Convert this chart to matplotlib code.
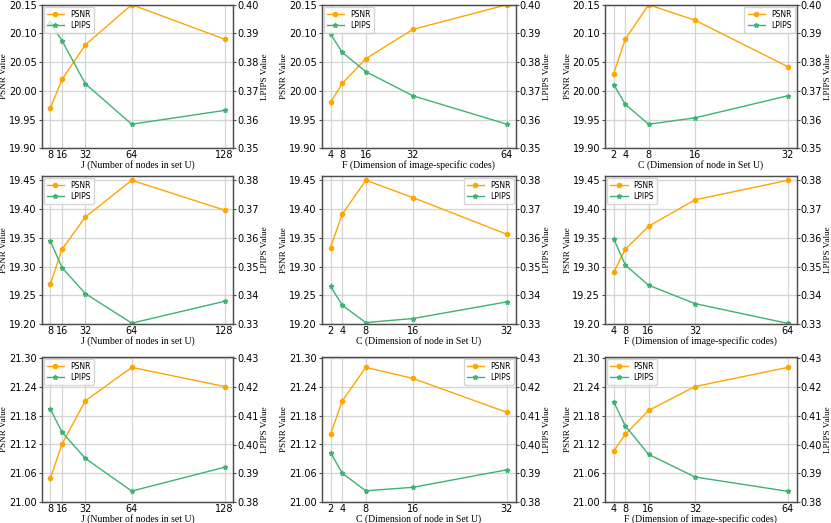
import matplotlib
matplotlib.use('Agg')
import matplotlib.pyplot as plt

# x values for each kind of experiment
J_vals = [8, 16, 32, 64, 128]
F_vals = [4, 8, 16, 32, 64]
C_vals = [2, 4, 8, 16, 32]

J_label = 'J (Number of nodes in set U)'
F_label = 'F (Dimension of image-specific codes)'
C_label = 'C (Dimension of node in Set U)'

# row 1
psnr_11 = [19.97, 20.02, 20.08, 20.15, 20.09]
lpips_11 = [0.3935, 0.3875, 0.3725, 0.3584, 0.3632]
psnr_12 = [19.98, 20.013, 20.056, 20.107, 20.15]
lpips_12 = [0.3898, 0.3834, 0.3767, 0.3683, 0.3584]
psnr_13 = [20.03, 20.09, 20.15, 20.123, 20.042]
lpips_13 = [0.3722, 0.3653, 0.3584, 0.3606, 0.3683]

# row 2
psnr_21 = [19.27, 19.33, 19.386, 19.45, 19.398]
lpips_21 = [0.3588, 0.3496, 0.3406, 0.3303, 0.3379]
psnr_22 = [19.333, 19.391, 19.45, 19.42, 19.356]
lpips_22 = [0.3432, 0.3365, 0.3305, 0.3319, 0.3377]
psnr_23 = [19.29, 19.33, 19.37, 19.416, 19.45]
lpips_23 = [0.3597, 0.3505, 0.3435, 0.3371, 0.3302]

# row 3
psnr_31 = [21.05, 21.121, 21.211, 21.281, 21.241]
lpips_31 = [0.4123, 0.4043, 0.3952, 0.3838, 0.3921]
psnr_32 = [21.141, 21.211, 21.281, 21.258, 21.187]
lpips_32 = [0.3972, 0.39, 0.3839, 0.3851, 0.3912]
psnr_33 = [21.106, 21.141, 21.191, 21.241, 21.281]
lpips_33 = [0.4149, 0.4065, 0.3966, 0.3887, 0.3837]

psnr_ticks_1 = [19.90, 19.95, 20.00, 20.05, 20.10, 20.15]
lpips_ticks_1 = [0.35, 0.36, 0.37, 0.38, 0.39, 0.40]
psnr_ticks_2 = [19.20, 19.25, 19.30, 19.35, 19.40, 19.45]
lpips_ticks_2 = [0.33, 0.34, 0.35, 0.36, 0.37, 0.38]
psnr_ticks_3 = [21.00, 21.06, 21.12, 21.18, 21.24, 21.30]
lpips_ticks_3 = [0.38, 0.39, 0.40, 0.41, 0.42, 0.43]

# axis limits (top slightly above last tick in rows 2 and 3)
psnr_lim = [(19.90, 20.15), (19.20, 19.458), (21.00, 21.3033)]
lpips_lim = [(0.35, 0.40), (0.33, 0.3816), (0.38, 0.4306)]

orange = '#FFA500'
green = '#3CB371'
serif = ['Liberation Serif', 'DejaVu Serif']

plt.rcParams['font.size'] = 7

fig = plt.figure(figsize=(8.31, 5.23), dpi=100)

col_left = [0.0502, 0.3871, 0.7280]
col_w = [0.2306, 0.2335, 0.2307]
row_bot = [0.7164, 0.3805, 0.0402]
row_h = [0.2746, 0.2836, 0.2778]


def panel(r, c, x, psnr, lpips, xlabel, pt, lt, loc):
    ax = fig.add_axes([col_left[c], row_bot[r], col_w[c], row_h[r]])
    ax2 = ax.twinx()
    l1, = ax.plot(x, psnr, color=orange, marker='o', markersize=3, linewidth=1, label='PSNR')
    l2, = ax2.plot(x, lpips, color=green, marker='*', markersize=3.5, linewidth=1, label='LPIPS')
    ax.set_xticks(x)
    ax.set_ylim(*psnr_lim[r])
    ax.set_yticks(pt)
    ax.set_yticklabels(['%.2f' % v for v in pt])
    ax2.set_ylim(*lpips_lim[r])
    ax2.set_yticks(lt)
    ax2.set_yticklabels(['%.2f' % v for v in lt])
    ax.grid(True, color='#d4d4d4', linewidth=0.9)
    ax.set_axisbelow(True)
    ax.set_xlabel(xlabel, family=serif, fontsize=7, labelpad=0)
    ax.set_ylabel('PSNR Value', family=serif, fontsize=6.6, labelpad=0.5)
    ax2.set_ylabel('LPIPS Value', family=serif, fontsize=6.6, labelpad=1.6)
    ax.tick_params(axis='y', labelsize=7, length=2, pad=1.5, color='0.3')
    ax2.tick_params(axis='y', labelsize=7, length=2, pad=0.8, color='0.3')
    for a in (ax, ax2):
        for s in a.spines.values():
            s.set_color('0.3')
            s.set_linewidth(0.9)
    ax.tick_params(axis='x', labelsize=7, length=0, pad=1.5)
    ax2.legend([l1, l2], ['PSNR', 'LPIPS'], loc=loc, fontsize=5.5,
               handlelength=2.3, borderaxespad=0.25, labelspacing=0.25)


panel(0, 0, J_vals, psnr_11, lpips_11, J_label, psnr_ticks_1, lpips_ticks_1, 'upper left')
panel(0, 1, F_vals, psnr_12, lpips_12, F_label, psnr_ticks_1, lpips_ticks_1, 'upper left')
panel(0, 2, C_vals, psnr_13, lpips_13, C_label, psnr_ticks_1, lpips_ticks_1, 'upper right')
panel(1, 0, J_vals, psnr_21, lpips_21, J_label, psnr_ticks_2, lpips_ticks_2, 'upper left')
panel(1, 1, C_vals, psnr_22, lpips_22, C_label, psnr_ticks_2, lpips_ticks_2, 'upper right')
panel(1, 2, F_vals, psnr_23, lpips_23, F_label, psnr_ticks_2, lpips_ticks_2, 'upper left')
panel(2, 0, J_vals, psnr_31, lpips_31, J_label, psnr_ticks_3, lpips_ticks_3, 'upper left')
panel(2, 1, C_vals, psnr_32, lpips_32, C_label, psnr_ticks_3, lpips_ticks_3, 'upper right')
panel(2, 2, F_vals, psnr_33, lpips_33, F_label, psnr_ticks_3, lpips_ticks_3, 'upper left')

fig.savefig('out.png', dpi=100)
